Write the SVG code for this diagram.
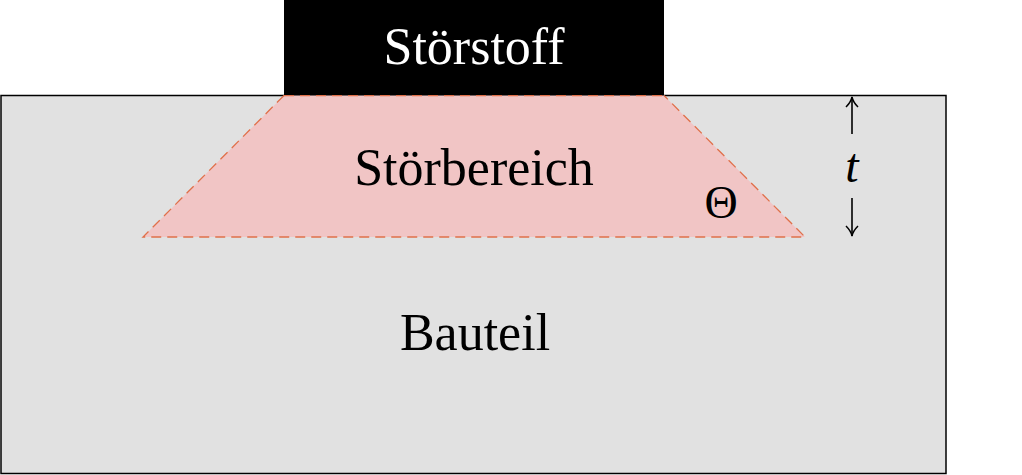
<svg xmlns="http://www.w3.org/2000/svg" width="1022" height="475" viewBox="0 0 1022 475">
<style>
.lbl{font-family:"Liberation Serif","DejaVu Serif",serif;font-size:52px;text-anchor:middle;fill:#000}
.dash{fill:none;stroke:#e0704a;stroke-width:1.3;stroke-dasharray:10,6}
.arr{stroke:#000;stroke-width:1.6;fill:none}
</style>
<defs>
<marker id="ah" markerWidth="16" markerHeight="16" refX="12" refY="8" orient="auto" markerUnits="userSpaceOnUse">
<path d="M2,2 Q7,7 12,8 Q7,9 2,14" fill="none" stroke="#000" stroke-width="1.5"/>
</marker>
</defs>
<rect width="1022" height="475" fill="#fff"/>
<g id="bauteil">
<rect x="1" y="95.5" width="945" height="378" fill="#e1e1e1" stroke="#000" stroke-width="1.5"/>
<text class="lbl" x="475" y="350">Bauteil</text>
</g>
<g id="stoerbereich">
<polygon points="284,95.5 664,95.5 805,237 143,237" fill="#f1c5c5"/>
<polyline class="dash" points="284,95.5 143,237 805,237 664,95.5"/>
<line class="dash" x1="284" y1="95.5" x2="664" y2="95.5"/>
<text class="lbl" x="474" y="185">Störbereich</text>
<text class="lbl" x="721" y="218" style="font-size:46px">Θ</text>
</g>
<g id="stoerstoff">
<rect x="284" y="0" width="380" height="95" fill="#000"/>
<text class="lbl" x="474" y="64" style="fill:#fff">Störstoff</text>
</g>
<g id="connectors">
<line class="arr" x1="852" y1="134" x2="852" y2="97" marker-end="url(#ah)"/>
<line class="arr" x1="852" y1="198" x2="852" y2="236" marker-end="url(#ah)"/>
</g>
<g id="dim">
<text class="lbl" x="852" y="182" style="font-style:italic;font-size:48px">t</text>
</g>
</svg>
